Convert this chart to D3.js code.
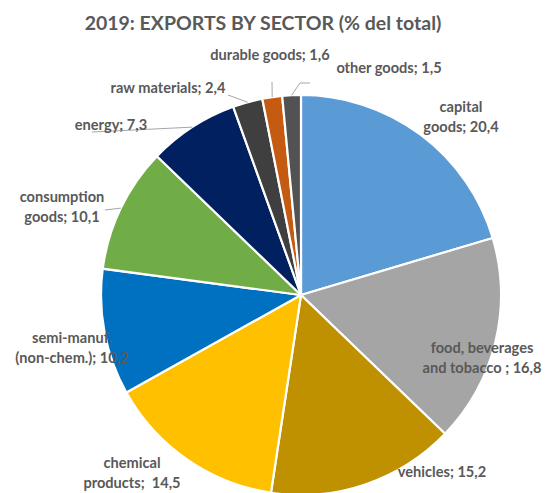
<!DOCTYPE html>
<html><head><meta charset="utf-8">
<script src="https://cdn.jsdelivr.net/npm/d3@7/dist/d3.min.js"></script>
<style>body{margin:0;background:#fff}svg{display:block}</style>
</head><body>
<svg id="c" width="547" height="493"></svg>
<script>
const categories = ["capital goods","food, beverages and tobacco","vehicles","chemical products","semi-manuf. (non-chem.)","consumption goods","energy","raw materials","durable goods","other goods"];
const values = [20.4,16.8,15.2,14.5,10.2,10.1,7.3,2.4,1.6,1.5];
const labelLines = [["capital","goods; 20,4"],["food, beverages","and tobacco ; 16,8"],["vehicles; 15,2"],["chemical","products;  14,5"],["semi-manuf.","(non-chem.); 10,2"],["consumption","goods; 10,1"],["energy; 7,3"],["raw materials; 2,4"],["durable goods; 1,6"],["other goods; 1,5"]];
const colors = ["#5B9BD5","#A5A5A5","#BF9000","#FFC000","#0070C0","#70AD47","#002060","#3F3F3F","#C55A11","#525252"];

// layout (label anchor positions and leader elbows)
const labelPos = [[461,107],[482,348],[442,472],[132,463],[72,338],[62,197],[111,125],[168,88],[270,55],[389,68]];
const leaderEnd = [null,null,null,null,null,[[105,210]],[[92,132]],[[228,95]],[[272,82]],[[300,83],[310,83]]];

const svg = d3.select("#c");
const cx = 301, cy = 295, R = 200;
const g = svg.append("g").attr("transform",`translate(${cx},${cy})`);
const pie = d3.pie().sort(null).value(d=>d);
const arcs = pie(values);
const arc = d3.arc().innerRadius(0).outerRadius(R);
g.selectAll("path.s").data(arcs).join("path").attr("class","s")
  .attr("d",arc).attr("fill",(d,i)=>colors[i]).attr("stroke","#fff").attr("stroke-width",2.2).attr("stroke-linejoin","miter");

// leader lines
arcs.forEach((d,i)=>{
  if(!leaderEnd[i]) return;
  const a=(d.startAngle+d.endAngle)/2;
  const p0=[cx+R*Math.sin(a), cy-R*Math.cos(a)];
  const pts=[p0].concat(leaderEnd[i]);
  svg.append("path").attr("d",d3.line()(pts)).attr("fill","none").attr("stroke","#A6A6A6").attr("stroke-width",1);
});

svg.append("text").attr("x",263).attr("y",30).attr("text-anchor","middle")
  .attr("font-family","Lato, 'Open Sans', sans-serif").attr("font-weight","bold").attr("font-size",19.5)
  .attr("fill","#595959").text("2019: EXPORTS BY SECTOR (% del total)");

labelLines.forEach((lines,i)=>{
  const t=svg.append("text").attr("text-anchor","middle")
    .attr("font-family","Lato, 'Open Sans', sans-serif").attr("font-weight","bold").attr("font-size",14.6)
    .attr("fill","#595959").style("white-space","pre");
  lines.forEach((s,k)=>{
    t.append("tspan").attr("x",labelPos[i][0]).attr("y",labelPos[i][1]+5+k*20).text(s);
  });
});
</script>
</body></html>
